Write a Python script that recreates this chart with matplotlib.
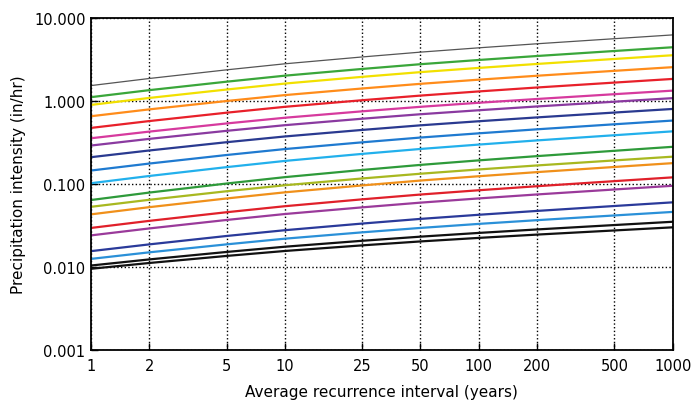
import matplotlib
matplotlib.use("Agg")
import matplotlib.pyplot as plt
from matplotlib.ticker import FixedLocator, FixedFormatter, NullLocator

# Average recurrence interval (years)
ari = [1, 2, 5, 10, 25, 50, 100, 200, 500, 1000]
x_ticks = [1, 2, 5, 10, 25, 50, 100, 200, 500, 1000]
x_tick_labels = ["1", "2", "5", "10", "25", "50", "100", "200", "500", "1000"]
y_ticks = [0.001, 0.01, 0.1, 1, 10]
y_tick_labels = ["0.001", "0.010", "0.100", "1.000", "10.000"]

# Precipitation intensity (in/hr), one series per duration (top to bottom)
s01 = [1.53, 1.863, 2.367, 2.80, 3.384, 3.869, 4.361, 4.881, 5.615, 6.24]
s02 = [1.11, 1.348, 1.704, 2.014, 2.426, 2.768, 3.112, 3.476, 3.993, 4.43]
s03 = [0.895, 1.086, 1.371, 1.618, 1.949, 2.222, 2.498, 2.789, 3.201, 3.55]
s04 = [0.654, 0.791, 0.997, 1.175, 1.411, 1.606, 1.802, 2.01, 2.303, 2.55]
s05 = [0.473, 0.572, 0.721, 0.849, 1.019, 1.159, 1.301, 1.451, 1.662, 1.84]
s06 = [0.355, 0.427, 0.535, 0.627, 0.749, 0.849, 0.950, 1.055, 1.205, 1.33]
s07 = [0.29, 0.349, 0.436, 0.510, 0.610, 0.691, 0.772, 0.858, 0.978, 1.08]
s08 = [0.21, 0.253, 0.318, 0.373, 0.447, 0.508, 0.569, 0.633, 0.724, 0.80]
s09 = [0.145, 0.176, 0.223, 0.263, 0.317, 0.362, 0.407, 0.455, 0.523, 0.58]
s10 = [0.102, 0.1247, 0.1593, 0.1893, 0.230, 0.2637, 0.2979, 0.3344, 0.386, 0.43]
s11 = [0.064, 0.0787, 0.1011, 0.1207, 0.1473, 0.1695, 0.1922, 0.2163, 0.2506, 0.28]
s12 = [0.053, 0.0644, 0.0816, 0.0964, 0.1163, 0.1327, 0.1494, 0.1670, 0.1919, 0.213]
s13 = [0.043, 0.0525, 0.0668, 0.0792, 0.0959, 0.1098, 0.1238, 0.1388, 0.160, 0.178]
s14 = [0.0295, 0.0359, 0.0456, 0.0539, 0.0652, 0.0745, 0.0839, 0.0939, 0.108, 0.12]
s15 = [0.024, 0.0291, 0.0368, 0.0434, 0.0522, 0.0595, 0.0669, 0.0747, 0.0857, 0.095]
s16 = [0.0155, 0.0187, 0.0236, 0.0277, 0.0333, 0.0379, 0.0425, 0.0473, 0.0542, 0.06]
s17 = [0.0125, 0.0150, 0.0187, 0.0219, 0.0261, 0.0295, 0.0330, 0.0366, 0.0417, 0.046]
s18 = [0.0104, 0.01232, 0.01515, 0.01752, 0.02065, 0.02316, 0.02569, 0.0283, 0.03196, 0.035]
s19 = [0.0095, 0.01116, 0.01357, 0.01557, 0.01819, 0.02029, 0.02238, 0.02453, 0.02751, 0.030]

series = [s01, s02, s03, s04, s05, s06, s07, s08, s09, s10,
          s11, s12, s13, s14, s15, s16, s17, s18, s19]
colors = ["#555555", "#3aa63a", "#f2e000", "#ff8c1a", "#e8202a", "#d63a9e",
          "#8a3aa0", "#2a3a90", "#1f7ad0", "#22b0ec",
          "#2e9a3a", "#a8b820", "#f0901a", "#e0202a", "#9a3a9a",
          "#2a3a9a", "#2a90d8", "#111111", "#111111"]
widths = [0.9] + [1.6] * 18

fig = plt.figure(figsize=(6.95, 4.02), dpi=100)
ax = fig.add_axes([0.131, 0.127, 0.837, 0.826])

for ys, c, lw in zip(series, colors, widths):
    ax.plot(ari, ys, color=c, lw=lw)

ax.set_xscale("log")
ax.set_yscale("log")
ax.set_xlim(1, 1000)
ax.set_ylim(0.001, 10)

ax.xaxis.set_major_locator(FixedLocator(x_ticks))
ax.xaxis.set_major_formatter(FixedFormatter(x_tick_labels))
ax.xaxis.set_minor_locator(NullLocator())
ax.yaxis.set_major_locator(FixedLocator(y_ticks))
ax.yaxis.set_major_formatter(FixedFormatter(y_tick_labels))
ax.yaxis.set_minor_locator(NullLocator())

ax.grid(True, which="major", color="black", linestyle=":", linewidth=1.0)
ax.tick_params(direction="in", length=5, width=1, labelsize=10.5,
               top=False, right=False)
ax.tick_params(axis="x", pad=6)
ax.tick_params(axis="y", pad=4)
for sp in ax.spines.values():
    sp.set_linewidth(1.3)

ax.set_xlabel("Average recurrence interval (years)", fontsize=11, labelpad=8)
ax.set_ylabel("Precipitation intensity (in/hr)", fontsize=11, labelpad=6)

fig.savefig("out.png", dpi=100)
